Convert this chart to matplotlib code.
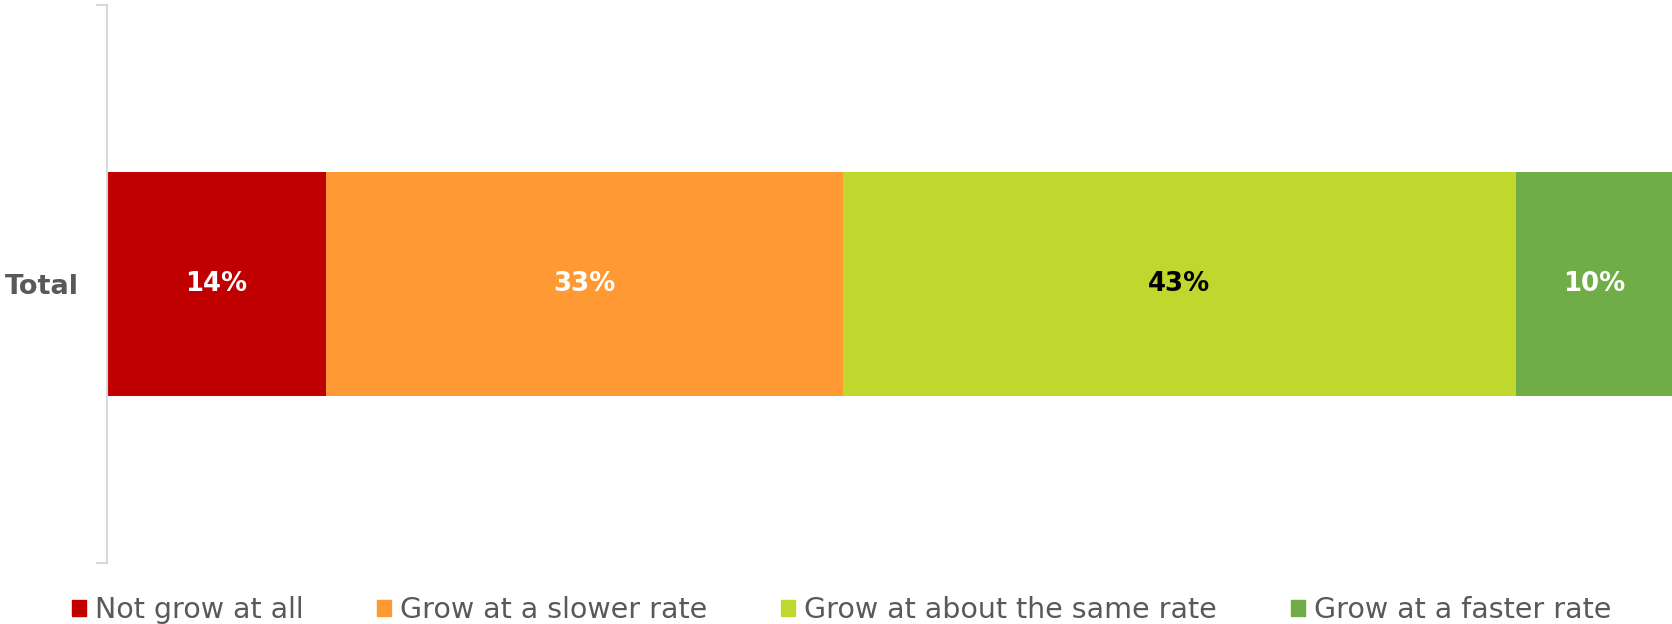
import matplotlib
matplotlib.use('Agg')
import matplotlib.pyplot as plt
import matplotlib.patches as mpatches

# 응답 비율 (%)
categories = ['Total']
series_names = ['Not grow at all', 'Grow at a slower rate',
                'Grow at about the same rate', 'Grow at a faster rate']
series_values = [14, 33, 43, 10]
series_colors = ['#C00000', '#FF9933', '#C0D72D', '#70AD47']
label_colors = ['white', 'white', 'black', 'white']

plt.rcParams['font.family'] = ['DejaVu Sans']

fig = plt.figure(figsize=(16.72, 6.24), dpi=100)
ax = fig.add_axes([107 / 1672, 61 / 624, 1 - 107 / 1672, 558 / 624])

# 누적 가로 막대
left = 0
for name, val, color, lc in zip(series_names, series_values, series_colors, label_colors):
    ax.barh(0, val, left=left, height=0.8, color=color, label=name)
    ax.text(left + val / 2, 0, f'{val}%', ha='center', va='center',
            color=lc, fontsize=18.7, fontweight='bold')
    left += val

ax.set_xlim(0, sum(series_values))
ax.set_ylim(-1, 1)
ax.invert_yaxis()

# 축 스타일
for side in ['top', 'right', 'bottom']:
    ax.spines[side].set_visible(False)
ax.spines['left'].set_color('#D9D9D9')
ax.spines['left'].set_linewidth(1.5)
ax.set_xticks([])
ax.set_yticks([-1, 1])
ax.set_yticklabels([])
ax.tick_params(axis='y', length=8, width=1.5, color='#D9D9D9')

# 카테고리 라벨
ax.text(-0.018, 0.495, categories[0], transform=ax.transAxes, ha='right', va='center',
        fontsize=19.5, fontweight='bold', color='#595959')

# 범례
handles = [mpatches.Patch(color=c, label=n) for n, c in zip(series_names, series_colors)]
fig.legend(handles=handles, loc='center', bbox_to_anchor=(0.5032, 14 / 624), ncol=4,
           frameon=False, fontsize=20.5, labelcolor='#595959', handlelength=0.5,
           handleheight=0.5, handletextpad=0.3, columnspacing=2.6)

plt.savefig('out.png', dpi=100)
